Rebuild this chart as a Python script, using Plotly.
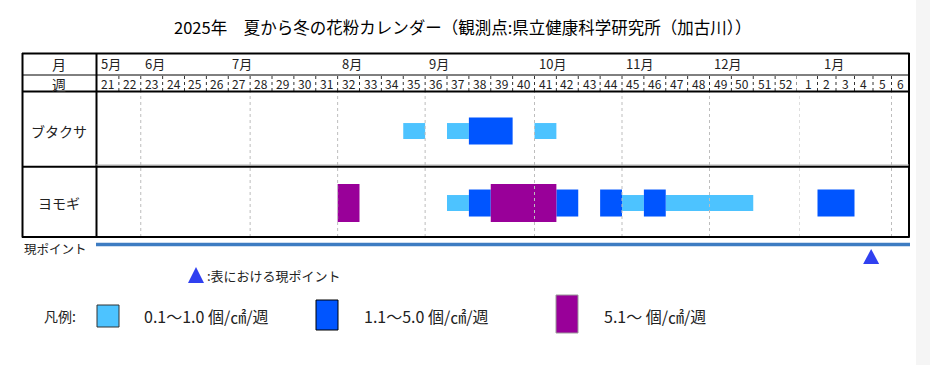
import plotly.graph_objects as go

# ---------------- data ----------------
TITLE = "2025年　夏から冬の花粉カレンダー（観測点:県立健康科学研究所（加古川））"
PLANTS = ["ブタクサ", "ヨモギ"]

WEEKS_2025 = [21, 22, 23, 24, 25, 26, 27, 28, 29, 30, 31, 32, 33, 34, 35, 36,
              37, 38, 39, 40, 41, 42, 43, 44, 45, 46, 47, 48, 49, 50, 51, 52]
WEEKS_2026 = [1, 2, 3, 4, 5, 6]

MONTH_LABELS_2025 = ["5月", "6月", "7月", "8月", "9月", "10月", "11月", "12月"]
MONTH_LABEL_WEEKS_2025 = [21, 23, 27, 32, 36, 41, 45, 49]
MONTH_LABELS_2026 = ["1月"]
MONTH_LABEL_WEEKS_2026 = [2]

MONTH_START_WEEKS_2025 = [23, 28, 32, 36, 41, 45, 49]
MONTH_START_WEEKS_2026 = [1, 6]

# level: 1 = 0.1〜1.0, 2 = 1.1〜5.0, 3 = 5.1〜
RAGWEED_2025_WEEKS = [35, 37, 38, 39, 41]
RAGWEED_2025_LEVELS = [1, 1, 2, 2, 1]
RAGWEED_2026_WEEKS = []
RAGWEED_2026_LEVELS = []

MUGWORT_2025_WEEKS = [32, 37, 38, 39, 40, 41, 42, 44, 45, 46, 47, 48, 49, 50]
MUGWORT_2025_LEVELS = [3, 1, 2, 3, 3, 3, 2, 2, 1, 2, 1, 1, 1, 1]
MUGWORT_2026_WEEKS = [2, 3]
MUGWORT_2026_LEVELS = [2, 2]

CURRENT_WEEK_2026 = 4.4

LEVELS = [1, 2, 3]
LEGEND_TEXTS = ["0.1〜1.0 個/㎠/週", "1.1〜5.0 個/㎠/週", "5.1〜 個/㎠/週"]

# ---------------- style ----------------
W, H = 930, 365
FONT = "Noto Sans CJK JP"
LEVEL_COLORS = {1: "#4dc3ff", 2: "#0055ff", 3: "#990099"}
LEVEL_THICK = {1: 0.222, 2: 0.375, 3: 0.528}
TRI_COLOR = "#3040f0"


def px(x):
    return x / W


def py(y):
    return 1 - y / H


def runs(weeks, levels):
    """Merge consecutive weeks with the same level into (start, length, level)."""
    out = []
    for w, l in zip(weeks, levels):
        if out and out[-1][2] == l and out[-1][0] + out[-1][1] == w:
            out[-1][1] += 1
        else:
            out.append([w, 1, l])
    return out


fig = go.Figure()

series = {
    0: [(RAGWEED_2025_WEEKS, RAGWEED_2025_LEVELS, "x"),
        (RAGWEED_2026_WEEKS, RAGWEED_2026_LEVELS, "x2")],
    1: [(MUGWORT_2025_WEEKS, MUGWORT_2025_LEVELS, "x"),
        (MUGWORT_2026_WEEKS, MUGWORT_2026_LEVELS, "x2")],
}

for lvl in LEVELS:
    for axis in ["x", "x2"]:
        ys, bases, lens = [], [], []
        for row, parts in series.items():
            for weeks, levels, ax in parts:
                if ax != axis:
                    continue
                for start, n, l in runs(weeks, levels):
                    if l == lvl:
                        ys.append(row)
                        bases.append(start - 0.5)
                        lens.append(n)
        if not ys:
            continue
        fig.add_trace(go.Bar(
            orientation="h", y=ys, x=lens, base=bases,
            width=LEVEL_THICK[lvl], marker=dict(color=LEVEL_COLORS[lvl], line=dict(width=0)),
            xaxis=axis, yaxis="y", showlegend=False, hoverinfo="skip"))

shapes = []
annotations = []

# background right band
shapes.append(dict(type="rect", xref="paper", yref="paper", x0=px(916), x1=1, y0=0, y1=1,
                   fillcolor="#f5f5f5", line=dict(width=0), layer="below"))

# body month separators (above bars)
for w in MONTH_START_WEEKS_2025:
    shapes.append(dict(type="line", xref="x", yref="paper", x0=w - 0.5, x1=w - 0.5,
                       y0=py(237), y1=py(92), line=dict(color="#bdbdbd", width=1, dash="dot"), layer="above"))
for w in MONTH_START_WEEKS_2026:
    shapes.append(dict(type="line", xref="x2", yref="paper", x0=w - 0.5, x1=w - 0.5,
                       y0=py(237), y1=py(92), line=dict(color="#bdbdbd", width=1, dash="dot"), layer="above"))

# week separators in header
for w in WEEKS_2025:
    shapes.append(dict(type="line", xref="x", yref="paper", x0=w + 0.5, x1=w + 0.5,
                       y0=py(91), y1=py(76), line=dict(color="#333", width=1, dash="dot"), layer="above"))
for w in WEEKS_2026[:-1]:
    shapes.append(dict(type="line", xref="x2", yref="paper", x0=w + 0.5, x1=w + 0.5,
                       y0=py(91), y1=py(76), line=dict(color="#333", width=1, dash="dot"), layer="above"))


def hline(y, x0, x1, w=2, c="black"):
    shapes.append(dict(type="line", xref="paper", yref="paper", x0=px(x0), x1=px(x1),
                       y0=py(y), y1=py(y), line=dict(color=c, width=w), layer="above"))


def vline(x, y0, y1, w=2, c="black"):
    shapes.append(dict(type="line", xref="paper", yref="paper", x0=px(x), x1=px(x),
                       y0=py(y0), y1=py(y1), line=dict(color=c, width=w), layer="above"))


hline(53.5, 22, 909.5)
hline(237, 22, 909.5)
vline(22.5, 53, 237.5)
vline(909, 53, 237.5)
vline(96.5, 53, 237.5)
hline(75, 22, 909, w=1)
hline(91.5, 22, 909)
hline(165, 96, 909, w=1, c="#b0b0b0")
hline(166.8, 22, 909)

# current point line
hline(244.5, 96, 910, w=3.5, c="#3d7cc2")

# current point triangle (on 2026 week axis)
half_w = 8 / 18.5
shapes.append(dict(type="path", xref="x2", yref="paper",
                   path=f"M {CURRENT_WEEK_2026 - half_w},{py(264)} L {CURRENT_WEEK_2026 + half_w},{py(264)} "
                        f"L {CURRENT_WEEK_2026},{py(249)} Z",
                   fillcolor=TRI_COLOR, line=dict(width=0), layer="above"))

# legend triangle
shapes.append(dict(type="path", xref="paper", yref="paper",
                   path=f"M {px(188)},{py(283)} L {px(204)},{py(283)} L {px(196)},{py(267)} Z",
                   fillcolor=TRI_COLOR, line=dict(width=0)))

# legend boxes
box_geo = [(97, 119, 305, 327, "#333"), (316, 338, 300, 330, "#000"), (556, 578, 295, 333, "#999")]
text_x = [142, 362, 602]
for lvl, (x0, x1, y0, y1, lc), tx, t in zip(LEVELS, box_geo, text_x, LEGEND_TEXTS):
    shapes.append(dict(type="rect", xref="paper", yref="paper", x0=px(x0), x1=px(x1),
                       y0=py(y1), y1=py(y0), fillcolor=LEVEL_COLORS[lvl], line=dict(color=lc, width=1)))
    annotations.append(dict(text=t, xref="paper", yref="paper", x=px(tx), y=py(316),
                            xanchor="left", yanchor="middle", showarrow=False,
                            font=dict(family=FONT, size=16, color="#222")))


def text(t, x, y, size=13, anchor="center", color="#222", xref="paper", yref="paper", xshift=0):
    annotations.append(dict(text=t, xref=xref, yref=yref, x=x, y=y, xanchor=anchor,
                            yanchor="middle", showarrow=False, xshift=xshift,
                            font=dict(family=FONT, size=size, color=color)))


text(TITLE, px(462), py(27), size=16.5, color="#000")
text("月", px(59), py(64), size=14)
text("週", px(59), py(84), size=14)
for i, name in enumerate(PLANTS):
    text(name, px(59), i, size=14, yref="y")

for w in WEEKS_2025:
    text(str(w), w, py(84), size=12, xref="x")
for w in WEEKS_2026:
    text(str(w), w, py(84), size=12, xref="x2")

for lab, w in zip(MONTH_LABELS_2025, MONTH_LABEL_WEEKS_2025):
    text(lab, w - 0.5, py(64), size=13, anchor="left", xref="x", xshift=2)
for lab, w in zip(MONTH_LABELS_2026, MONTH_LABEL_WEEKS_2026):
    text(lab, w - 0.5, py(64), size=13, anchor="left", xref="x2", xshift=4)

text("現ポイント", px(22), py(248), size=12.5, anchor="left")
text(":表における現ポイント", px(205), py(275), size=13, anchor="left")
text("凡例:", px(42), py(316), size=14, anchor="left")

fig.update_layout(
    width=W, height=H, margin=dict(l=0, r=0, t=0, b=0),
    paper_bgcolor="white", plot_bgcolor="rgba(0,0,0,0)",
    barmode="overlay", showlegend=False,
    xaxis=dict(domain=[px(97), px(797)], range=[20.5, 52.5], visible=False, fixedrange=True),
    xaxis2=dict(domain=[px(799), px(910)], range=[0.5, 6.5], visible=False, anchor="y", fixedrange=True),
    yaxis=dict(domain=[py(237), py(91)], range=[1.472, -0.556], visible=False, fixedrange=True),
    shapes=shapes, annotations=annotations,
)

fig.write_html("out.html", config={"displayModeBar": False},
               post_script="document.body.style.margin='0px';")
